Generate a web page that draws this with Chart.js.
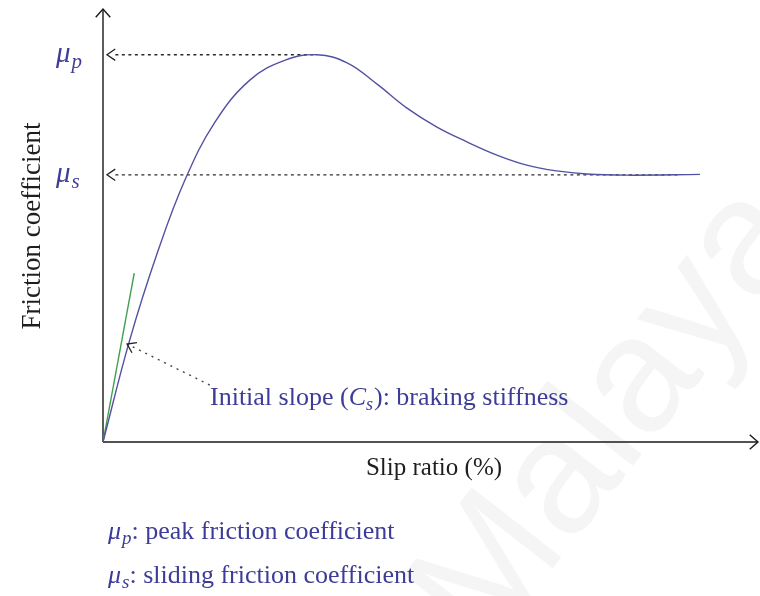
<!DOCTYPE html>
<html>
<head>
<meta charset="utf-8">
<script src="https://cdn.jsdelivr.net/npm/chart.js@4.4.1/dist/chart.umd.min.js"></script>
<style>
  html, body { margin: 0; padding: 0; background: #ffffff; }
  #wrap { width: 760px; height: 596px; position: relative; }
  canvas { display: block; }
</style>
</head>
<body>
<div id="wrap"><canvas id="c" width="760" height="596"></canvas></div>
<script>
// Friction coefficient vs. slip ratio (schematic tyre curve)
const slip = [0, 4.1, 8.4, 12.6, 17.2, 22.6, 28.0, 32.9, 37.5, 42.1, 46.7, 51.3, 55.9, 60.5, 65.1, 69.7, 74.3, 80.5, 91.7];
const friction = [0, 0.263, 0.491, 0.677, 0.826, 0.935, 0.986, 1.0, 0.979, 0.924, 0.862, 0.813, 0.775, 0.741, 0.715, 0.700, 0.692, 0.689, 0.691];

// Characteristic levels
const MU_P = 1.0;       // peak friction coefficient
const MU_S = 0.69;      // sliding friction coefficient
const PEAK_SLIP = 32.9; // slip at the peak

// Initial slope (braking stiffness) segment
const slopeX = [0, 4.8];
const slopeY = [0, 0.436];

// Guide arrow from the caption to the slope
const pointerX = [16.4, 3.7];
const pointerY = [0.147, 0.253];

const AXIS_COLOR = '#1a1a1a';
const CURVE_COLOR = '#5252a2';
const SLOPE_COLOR = '#3f9e50';
const TEXT_BLUE = '#3d3d98';
const SERIF = '"Liberation Serif", "DejaVu Serif", serif';

const pts = (xs, ys) => xs.map((x, i) => ({ x, y: ys[i] }));

function chevron(ctx, tx, ty, angle, len, spread) {
  ctx.beginPath();
  ctx.moveTo(tx + len * Math.cos(angle + spread), ty + len * Math.sin(angle + spread));
  ctx.lineTo(tx, ty);
  ctx.lineTo(tx + len * Math.cos(angle - spread), ty + len * Math.sin(angle - spread));
  ctx.stroke();
}

function muLabel(ctx, x, y, sub, size, color) {
  ctx.save();
  ctx.fillStyle = color;
  ctx.textBaseline = 'alphabetic';
  ctx.textAlign = 'left';
  ctx.font = 'italic ' + size + 'px ' + SERIF;
  ctx.fillText('\u03bc', x, y);
  const w = ctx.measureText('\u03bc').width;
  ctx.font = 'italic ' + Math.round(size * 0.72) + 'px ' + SERIF;
  ctx.fillText(sub, x + w + 1, y + size * 0.2);
  const w2 = ctx.measureText(sub).width;
  ctx.restore();
  return x + w + 1 + w2;
}

const decorations = {
  id: 'decorations',
  beforeDatasetsDraw(chart) {
    const ctx = chart.ctx;
    // faint watermark
    ctx.save();
    ctx.translate(485, 655);
    ctx.rotate(-52 * Math.PI / 180);
    ctx.fillStyle = '#f5f5f5';
    ctx.font = '165px "Liberation Sans", Arial, sans-serif';
    ctx.textBaseline = 'alphabetic';
    ctx.fillText('Malaya', 0, 0);
    ctx.restore();

    // axes with open arrow heads
    const x0 = chart.scales.x.getPixelForValue(0);
    const y0 = chart.scales.y.getPixelForValue(0);
    ctx.save();
    ctx.strokeStyle = AXIS_COLOR;
    ctx.lineWidth = 1.4;
    ctx.beginPath();
    ctx.moveTo(x0, y0);
    ctx.lineTo(x0, 9);
    ctx.moveTo(x0, y0);
    ctx.lineTo(758, y0);
    ctx.stroke();
    chevron(ctx, x0, 9, Math.PI / 2, 11, 0.72);
    chevron(ctx, 758, y0, Math.PI, 11, 0.72);
    ctx.restore();
  },
  afterDatasetsDraw(chart) {
    const ctx = chart.ctx;
    const xs = chart.scales.x, ys = chart.scales.y;
    ctx.save();
    ctx.strokeStyle = '#222222';
    ctx.lineWidth = 1.3;
    // arrow heads of the guide lines
    chevron(ctx, xs.getPixelForValue(0) + 4, ys.getPixelForValue(MU_P), 0, 10, 0.6);
    chevron(ctx, xs.getPixelForValue(0) + 4, ys.getPixelForValue(MU_S), 0, 10, 0.6);
    const tx = xs.getPixelForValue(pointerX[1]), ty = ys.getPixelForValue(pointerY[1]);
    const fx = xs.getPixelForValue(pointerX[0]), fy = ys.getPixelForValue(pointerY[0]);
    chevron(ctx, tx, ty, Math.atan2(fy - ty, fx - tx), 10, 0.6);
    ctx.restore();

    // level labels on the vertical axis
    muLabel(ctx, 56, ys.getPixelForValue(MU_P) + 7, 'p', 29, TEXT_BLUE);
    muLabel(ctx, 56, ys.getPixelForValue(MU_S) + 7, 's', 29, TEXT_BLUE);

    // axis titles
    ctx.save();
    ctx.fillStyle = '#1e1e1e';
    ctx.font = '25px ' + SERIF;
    ctx.textAlign = 'center';
    ctx.textBaseline = 'alphabetic';
    ctx.fillText('Slip ratio (%)', 434, 475);
    ctx.translate(40, 226);
    ctx.rotate(-Math.PI / 2);
    ctx.font = '27px ' + SERIF;
    ctx.fillText('Friction coefficient', 0, 0);
    ctx.restore();

    // caption of the initial slope
    ctx.save();
    ctx.fillStyle = TEXT_BLUE;
    ctx.textBaseline = 'alphabetic';
    ctx.textAlign = 'left';
    let x = 210;
    const by = 405;
    ctx.font = '26px ' + SERIF;
    ctx.fillText('Initial slope (', x, by);
    x += ctx.measureText('Initial slope (').width;
    ctx.font = 'italic 26px ' + SERIF;
    ctx.fillText('C', x, by);
    x += ctx.measureText('C').width;
    ctx.font = 'italic 18px ' + SERIF;
    ctx.fillText('s', x, by + 5);
    x += ctx.measureText('s').width + 1;
    ctx.font = '26px ' + SERIF;
    ctx.fillText('): braking stiffness', x, by);
    ctx.restore();

    // key of the symbols
    ctx.save();
    ctx.fillStyle = TEXT_BLUE;
    ctx.textBaseline = 'alphabetic';
    let ex = muLabel(ctx, 108, 539, 'p', 26, TEXT_BLUE);
    ctx.font = '26px ' + SERIF;
    ctx.fillText(': peak friction coefficient', ex, 539);
    ex = muLabel(ctx, 108, 583, 's', 26, TEXT_BLUE);
    ctx.font = '26px ' + SERIF;
    ctx.fillText(': sliding friction coefficient', ex, 583);
    ctx.restore();
  }
};

new Chart(document.getElementById('c'), {
  type: 'scatter',
  data: {
    datasets: [
      {
        label: 'mu_p guide',
        data: [{ x: 1.9, y: MU_P }, { x: PEAK_SLIP, y: MU_P }],
        showLine: true, borderColor: '#2a2a2a', borderWidth: 1.3,
        borderDash: [3, 3.5], pointRadius: 0, order: 3
      },
      {
        label: 'mu_s guide',
        data: [{ x: 1.9, y: MU_S }, { x: 88.5, y: MU_S }],
        showLine: true, borderColor: '#2a2a2a', borderWidth: 1.3,
        borderDash: [3, 3.5], pointRadius: 0, order: 3
      },
      {
        label: 'pointer',
        data: pts(pointerX, pointerY),
        showLine: true, borderColor: '#444444', borderWidth: 1.4,
        borderDash: [2, 5], pointRadius: 0, order: 3
      },
      {
        label: 'Friction coefficient',
        data: pts(slip, friction),
        showLine: true, borderColor: CURVE_COLOR, borderWidth: 1.4,
        tension: 0.4, pointRadius: 0, order: 1
      },
      {
        label: 'Initial slope',
        data: pts(slopeX, slopeY),
        showLine: true, borderColor: SLOPE_COLOR, borderWidth: 1.4,
        pointRadius: 0, order: 2
      }
    ]
  },
  options: {
    responsive: false,
    animation: false,
    layout: { padding: { left: 103, right: 6, top: 16, bottom: 154 } },
    plugins: { legend: { display: false }, tooltip: { enabled: false } },
    scales: {
      x: { type: 'linear', min: 0, max: 100, display: false },
      y: { type: 'linear', min: 0, max: 1.1, display: false }
    }
  },
  plugins: [decorations]
});
</script>
</body>
</html>
